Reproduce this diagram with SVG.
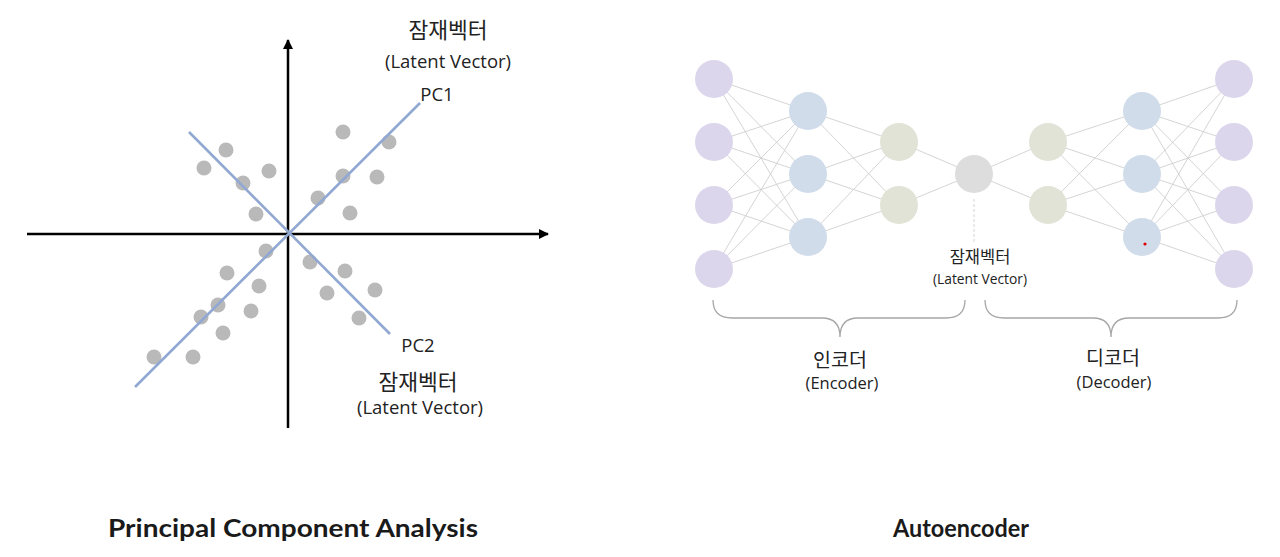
<svg xmlns="http://www.w3.org/2000/svg" width="1280" height="557" viewBox="0 0 1280 557">
<style>
.t{font-family:"Open Sans","Noto Sans CJK KR",sans-serif;fill:#222;text-anchor:middle}
.ko{font-family:"Noto Sans CJK KR",sans-serif;fill:#222;text-anchor:middle}
.pc{font-size:18.5px}
.pck{font-size:21.5px}
.ae{font-size:13.8px}
.aek{font-size:16.5px}
.br{font-size:16.5px}
.brk{font-size:19.5px}
.title{font-family:Lato,"Liberation Sans",sans-serif;font-weight:bold;font-size:25px;fill:#1a1a1a;text-anchor:middle}
.axis{stroke:#000;stroke-width:2.5;fill:none}
.pcl{stroke:#90a8d2;stroke-width:2.6}
.dot{fill:#b9b9b9}
.cn line{stroke:#cfcfcf;stroke-width:0.9}
.p{fill:#dcd6ec}
.b{fill:#d0dcea}
.g{fill:#e0e3d6}
.l{fill:#dddddd}
.brace{fill:none;stroke:#a6a6a6;stroke-width:1.3}
</style>
<defs>
<marker id="ah" viewBox="0 0 10 10" refX="9" refY="5" markerWidth="4" markerHeight="4" orient="auto" markerUnits="strokeWidth">
<path d="M0,0 L10,5 L0,10 z" fill="#000"/>
</marker>
</defs>
<rect width="1280" height="557" fill="#fff"/>

<!-- PCA -->
<g id="pca">
<g id="axes">
<line class="axis" x1="27" y1="234" x2="548" y2="234" marker-end="url(#ah)"/>
<line class="axis" x1="288" y1="428" x2="288" y2="40" marker-end="url(#ah)"/>
</g>
<g id="points">
<circle class="dot" cx="226" cy="150" r="7.5"/>
<circle class="dot" cx="204" cy="168" r="7.5"/>
<circle class="dot" cx="269" cy="171" r="7.5"/>
<circle class="dot" cx="243" cy="183" r="7.5"/>
<circle class="dot" cx="256" cy="214" r="7.5"/>
<circle class="dot" cx="343" cy="132" r="7.5"/>
<circle class="dot" cx="389" cy="142" r="7.5"/>
<circle class="dot" cx="343" cy="176" r="7.5"/>
<circle class="dot" cx="377" cy="177" r="7.5"/>
<circle class="dot" cx="318" cy="198" r="7.5"/>
<circle class="dot" cx="350" cy="213" r="7.5"/>
<circle class="dot" cx="266" cy="251" r="7.5"/>
<circle class="dot" cx="227" cy="273" r="7.5"/>
<circle class="dot" cx="259" cy="286" r="7.5"/>
<circle class="dot" cx="218" cy="305" r="7.5"/>
<circle class="dot" cx="201" cy="317" r="7.5"/>
<circle class="dot" cx="251" cy="311" r="7.5"/>
<circle class="dot" cx="223" cy="333" r="7.5"/>
<circle class="dot" cx="154" cy="357" r="7.5"/>
<circle class="dot" cx="193" cy="357" r="7.5"/>
<circle class="dot" cx="310" cy="262" r="7.5"/>
<circle class="dot" cx="345" cy="271" r="7.5"/>
<circle class="dot" cx="327" cy="293" r="7.5"/>
<circle class="dot" cx="375" cy="290" r="7.5"/>
<circle class="dot" cx="359" cy="318" r="7.5"/>
</g>
<g id="pc-lines">
<line class="pcl" x1="135" y1="387" x2="420" y2="103"/>
<line class="pcl" x1="189" y1="132" x2="390" y2="334"/>
</g>
<g id="pc1-label">
<text class="ko pck" x="448" y="38">잠재벡터</text>
<text class="t pc" x="448" y="68">(Latent Vector)</text>
<text class="t pc" x="437" y="101">PC1</text>
</g>
<g id="pc2-label">
<text class="t pc" x="418" y="352">PC2</text>
<text class="ko pck" x="418" y="390">잠재벡터</text>
<text class="t pc" x="420" y="414">(Latent Vector)</text>
</g>
<text id="pca-title" class="title" x="293" y="537" textLength="370" lengthAdjust="spacingAndGlyphs">Principal Component Analysis</text>
</g>

<!-- Autoencoder -->
<g id="connectors" class="cn">
<line x1="714" y1="79" x2="808" y2="111"/><line x1="714" y1="79" x2="808" y2="174"/><line x1="714" y1="79" x2="808" y2="237"/>
<line x1="714" y1="142" x2="808" y2="111"/><line x1="714" y1="142" x2="808" y2="174"/><line x1="714" y1="142" x2="808" y2="237"/>
<line x1="714" y1="205" x2="808" y2="111"/><line x1="714" y1="205" x2="808" y2="174"/><line x1="714" y1="205" x2="808" y2="237"/>
<line x1="714" y1="269" x2="808" y2="111"/><line x1="714" y1="269" x2="808" y2="174"/><line x1="714" y1="269" x2="808" y2="237"/>
<line x1="808" y1="111" x2="899" y2="142"/><line x1="808" y1="111" x2="899" y2="205"/>
<line x1="808" y1="174" x2="899" y2="142"/><line x1="808" y1="174" x2="899" y2="205"/>
<line x1="808" y1="237" x2="899" y2="142"/><line x1="808" y1="237" x2="899" y2="205"/>
<line x1="899" y1="142" x2="974" y2="174"/><line x1="899" y1="205" x2="974" y2="174"/>
<line x1="974" y1="174" x2="1048" y2="142"/><line x1="974" y1="174" x2="1048" y2="205"/>
<line x1="1048" y1="142" x2="1142" y2="111"/><line x1="1048" y1="142" x2="1142" y2="174"/><line x1="1048" y1="142" x2="1142" y2="237"/>
<line x1="1048" y1="205" x2="1142" y2="111"/><line x1="1048" y1="205" x2="1142" y2="174"/><line x1="1048" y1="205" x2="1142" y2="237"/>
<line x1="1142" y1="111" x2="1234" y2="79"/><line x1="1142" y1="111" x2="1234" y2="142"/><line x1="1142" y1="111" x2="1234" y2="205"/><line x1="1142" y1="111" x2="1234" y2="269"/>
<line x1="1142" y1="174" x2="1234" y2="79"/><line x1="1142" y1="174" x2="1234" y2="142"/><line x1="1142" y1="174" x2="1234" y2="205"/><line x1="1142" y1="174" x2="1234" y2="269"/>
<line x1="1142" y1="237" x2="1234" y2="79"/><line x1="1142" y1="237" x2="1234" y2="142"/><line x1="1142" y1="237" x2="1234" y2="205"/><line x1="1142" y1="237" x2="1234" y2="269"/>
<line x1="974" y1="199" x2="974" y2="244" stroke="#999" stroke-width="1" stroke-dasharray="3,2"/>
</g>
<g id="input-layer">
<circle class="p" cx="714" cy="79" r="19"/><circle class="p" cx="714" cy="142" r="19"/><circle class="p" cx="714" cy="205" r="19"/><circle class="p" cx="714" cy="269" r="19"/>
</g>
<g id="enc-hidden1">
<circle class="b" cx="808" cy="111" r="19"/><circle class="b" cx="808" cy="174" r="19"/><circle class="b" cx="808" cy="237" r="19"/>
</g>
<g id="enc-hidden2">
<circle class="g" cx="899" cy="142" r="19"/><circle class="g" cx="899" cy="205" r="19"/>
</g>
<g id="latent">
<circle class="l" cx="974" cy="174" r="19"/>
</g>
<g id="dec-hidden1">
<circle class="g" cx="1048" cy="142" r="19"/><circle class="g" cx="1048" cy="205" r="19"/>
</g>
<g id="dec-hidden2">
<circle class="b" cx="1142" cy="111" r="19"/><circle class="b" cx="1142" cy="174" r="19"/><circle class="b" cx="1142" cy="237" r="19"/>
<circle cx="1145" cy="244" r="1.6" fill="#e00000"/>
</g>
<g id="output-layer">
<circle class="p" cx="1234" cy="79" r="19"/><circle class="p" cx="1234" cy="142" r="19"/><circle class="p" cx="1234" cy="205" r="19"/><circle class="p" cx="1234" cy="269" r="19"/>
</g>
<g id="latent-label">
<text class="ko aek" x="980" y="263">잠재벡터</text>
<text class="t ae" x="980" y="284">(Latent Vector)</text>
</g>
<g id="encoder-brace">
<path class="brace" d="M713,300 Q713,318 732,318 L822,318 Q840,318 840,337 Q840,318 858,318 L946,318 Q965,318 965,300"/>
<text class="ko brk" x="840" y="367">인코더</text>
<text class="t br" x="842" y="389">(Encoder)</text>
</g>
<g id="decoder-brace">
<path class="brace" d="M985,300 Q985,318 1004,318 L1093,318 Q1111,318 1111,337 Q1111,318 1129,318 L1218,318 Q1237,318 1237,300"/>
<text class="ko brk" x="1113" y="365">디코더</text>
<text class="t br" x="1114" y="388">(Decoder)</text>
</g>
<text id="ae-title" class="title" x="961" y="537" textLength="136" lengthAdjust="spacingAndGlyphs">Autoencoder</text>
</svg>
